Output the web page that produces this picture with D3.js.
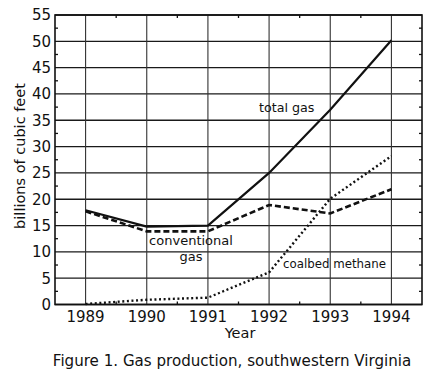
<!DOCTYPE html>
<html><head><meta charset="utf-8">
<script src="https://cdn.jsdelivr.net/npm/d3@7"></script>
<style>body{margin:0;background:#fff}svg{display:block}text{font-family:"DejaVu Sans",sans-serif;fill:#111}</style>
</head><body>
<svg id="c" width="432" height="374"></svg>
<script>
const years = [1989, 1990, 1991, 1992, 1993, 1994];
const totalGas = [17.9, 14.8, 15.0, 25.0, 37.0, 50.2];
const conventionalGas = [17.7, 13.9, 13.9, 18.9, 17.3, 21.9];
const coalbedMethane = [0.1, 0.9, 1.3, 6.1, 20.1, 28.2];
const yTicks = [0, 5, 10, 15, 20, 25, 30, 35, 40, 45, 50, 55];
const yMinor = [2.5, 7.5, 12.5, 17.5, 22.5, 27.5, 32.5, 37.5, 42.5, 47.5, 52.5];
const xMinor = [1989.5, 1990.5, 1991.5, 1992.5, 1993.5];

const svg = d3.select("#c");
const L = 55, R = 422, T = 15, B = 304.5;
const x = d3.scaleLinear().domain([1988.5, 1994.5]).range([L, R]);
const y = d3.scaleLinear().domain([0, 55]).range([B, T]);

const g = svg.append("g");
g.selectAll(".hg").data(yTicks).join("line")
  .attr("x1", L).attr("x2", R).attr("y1", d => y(d)).attr("y2", d => y(d))
  .attr("stroke", "#1a1a1a").attr("stroke-width", 1.3);
g.selectAll(".vg").data(years).join("line")
  .attr("x1", d => x(d)).attr("x2", d => x(d)).attr("y1", T).attr("y2", B)
  .attr("stroke", "#333").attr("stroke-width", 1.1);
g.selectAll(".ml").data(yMinor).join("line")
  .attr("x1", L).attr("x2", L + 3).attr("y1", d => y(d)).attr("y2", d => y(d))
  .attr("stroke", "#111").attr("stroke-width", 1.3);
g.selectAll(".mr").data(yMinor).join("line")
  .attr("x1", R - 3).attr("x2", R).attr("y1", d => y(d)).attr("y2", d => y(d))
  .attr("stroke", "#111").attr("stroke-width", 1.3);
g.selectAll(".mt").data(xMinor).join("line")
  .attr("x1", d => x(d)).attr("x2", d => x(d)).attr("y1", T).attr("y2", T + 3)
  .attr("stroke", "#111").attr("stroke-width", 1.3);
g.selectAll(".mb").data(xMinor).join("line")
  .attr("x1", d => x(d)).attr("x2", d => x(d)).attr("y1", B - 3).attr("y2", B)
  .attr("stroke", "#111").attr("stroke-width", 1.3);
g.append("rect").attr("x", L).attr("y", T).attr("width", R - L).attr("height", B - T)
  .attr("fill", "none").attr("stroke", "#111").attr("stroke-width", 1.6);

svg.append("g").selectAll("text").data(yTicks).join("text")
  .attr("x", L - 4).attr("y", d => y(d)).attr("dy", "0.36em")
  .attr("text-anchor", "end").attr("font-size", 15).text(d => d);
svg.append("g").selectAll("text").data(years).join("text")
  .attr("x", d => x(d)).attr("y", 322)
  .attr("text-anchor", "middle").attr("font-size", 15).text(d => d);

svg.append("text").attr("x", 240).attr("y", 338).attr("text-anchor", "middle")
  .attr("font-size", 14.5).text("Year");
svg.append("text").attr("transform", "translate(25,156) rotate(-90)")
  .attr("text-anchor", "middle").attr("font-size", 14.5).text("billions of cubic feet");
svg.append("text").attr("x", 232).attr("y", 366).attr("text-anchor", "middle")
  .attr("font-size", 15.1).text("Figure 1. Gas production, southwestern Virginia");

const mk = vals => d3.line().x((d, i) => x(years[i])).y(d => y(d))(vals);
svg.append("path").attr("d", mk(coalbedMethane)).attr("fill", "none")
  .attr("stroke", "#111").attr("stroke-width", 2.4).attr("stroke-dasharray", "2,2.6");
svg.append("path").attr("d", mk(conventionalGas)).attr("fill", "none")
  .attr("stroke", "#111").attr("stroke-width", 2.6).attr("stroke-dasharray", "6,3");
svg.append("path").attr("d", mk(totalGas)).attr("fill", "none")
  .attr("stroke", "#111").attr("stroke-width", 2.2);

const ann = svg.append("g");
ann.append("text").attr("x", 259).attr("y", 112).attr("font-size", 12.7).text("total gas");
ann.append("text").attr("x", 191).attr("y", 245).attr("text-anchor", "middle").attr("font-size", 13).text("conventional");
ann.append("text").attr("x", 191).attr("y", 261).attr("text-anchor", "middle").attr("font-size", 13).text("gas");
ann.append("text").attr("x", 283).attr("y", 268).attr("font-size", 11.8).text("coalbed methane");
</script>
</body></html>
